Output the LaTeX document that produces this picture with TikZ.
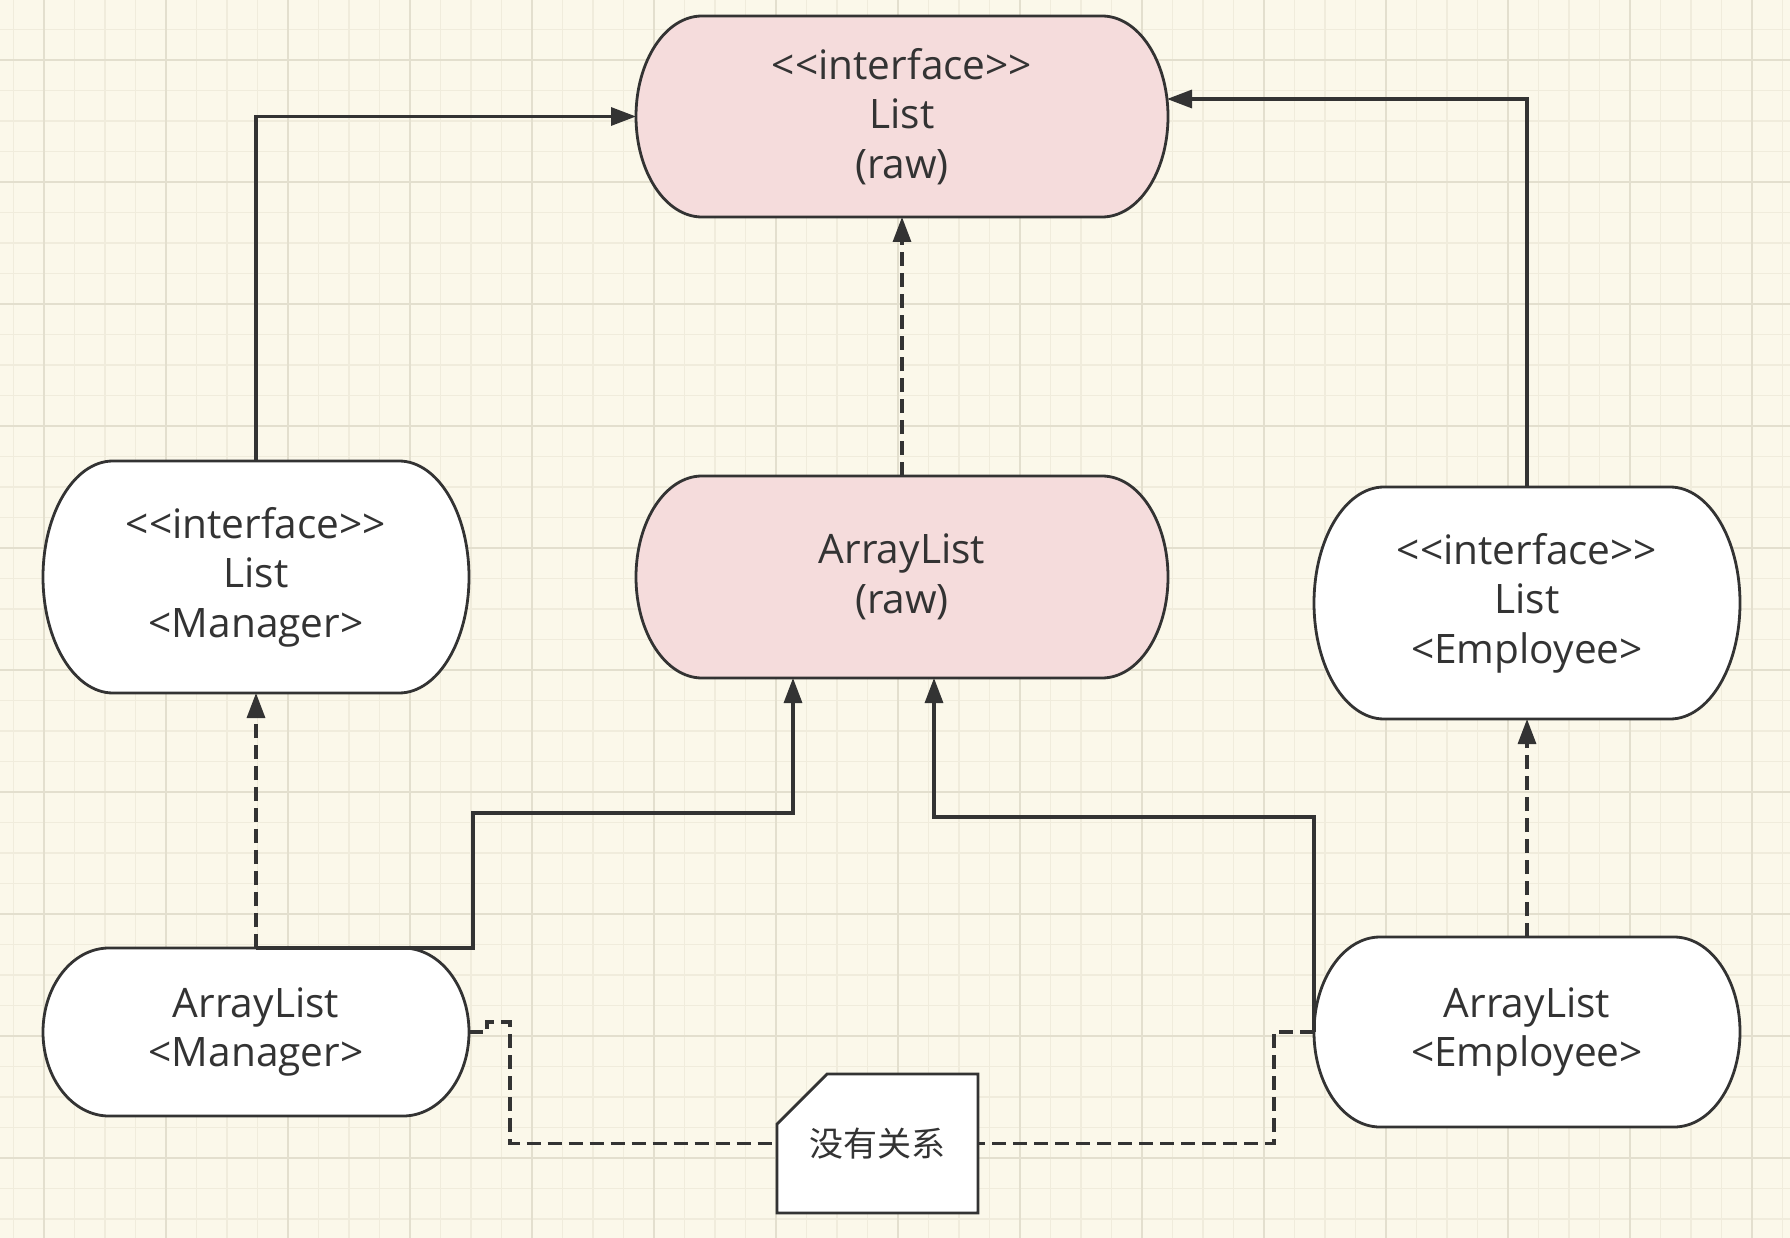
\documentclass[tikz,border=0pt]{standalone}
\usepackage{fontspec}
\setmainfont{Open Sans}
\newfontfamily\cjk{Noto Sans CJK SC}
\usetikzlibrary{arrows.meta,calc}
\definecolor{bgc}{HTML}{FBF8EA}
\definecolor{gridminor}{HTML}{F0ECDC}
\definecolor{gridmajor}{HTML}{E3DFCE}
\definecolor{linec}{HTML}{333333}
\definecolor{pinkc}{HTML}{F5DCDC}
\newcommand\ltlt{<\kern0pt<}
\newcommand\gtgt{>\kern0pt>}
\newcommand\capsule[3]{%
  \path[draw=linec, line width=2.8pt, fill=#3]
    let \p1=(#1.north west), \p2=(#1.south east) in
    (\x1+#2,\y1) -- (\x2-#2,\y1)
    arc[start angle=90, end angle=-90, x radius=#2, y radius={(\y1-\y2)/2}]
    -- (\x1+#2,\y2)
    arc[start angle=270, end angle=90, x radius=#2, y radius={(\y1-\y2)/2}]
    -- cycle;}
\pgfdeclarelayer{gridlayer}
\pgfdeclarelayer{shapelayer}
\pgfsetlayers{gridlayer,shapelayer,main}
\begin{document}
\begin{tikzpicture}[x=1pt,y=-1pt,
  capnode/.style={inner sep=0pt, outer sep=0pt, align=center, text=linec,
    font=\fontsize{40.6}{49.5}\selectfont},
  notenode/.style={inner sep=0pt, outer sep=0pt, align=center, text=linec,
    font=\cjk\fontsize{34}{40}\selectfont},
  conn/.style={draw=linec, line width=3.2pt},
  arrowconn/.style={conn, -{Triangle[length=25pt,width=18pt]}},
  dashconn/.style={conn, dash pattern=on 14pt off 7pt},
  dasharrow/.style={arrowconn, dash pattern=on 14pt off 7pt}]
\useasboundingbox (0,0) rectangle (1790,1238);
\begin{pgfonlayer}{gridlayer}
  \fill[bgc] (0,0) rectangle (1790,1238);
  \foreach \xx in {13.5,44,...,1790} \draw[gridminor, line width=1.6pt] (\xx,0) -- (\xx,1238);
  \foreach \yy in {29.5,60,...,1238} \draw[gridminor, line width=1.6pt] (0,\yy) -- (1790,\yy);
  \foreach \xx in {44,166,...,1790} \draw[gridmajor, line width=2pt] (\xx,0) -- (\xx,1238);
  \foreach \yy in {60,182,...,1238} \draw[gridmajor, line width=2pt] (0,\yy) -- (1790,\yy);
\end{pgfonlayer}

% nodes
\node[capnode, minimum width=532pt, minimum height=201pt] (A) at (902,116.5) {\ltlt interface\gtgt\\List\\(raw)};
\node[capnode, minimum width=532pt, minimum height=202pt] (B) at (902,577) {ArrayList\\(raw)};
\node[capnode, minimum width=426pt, minimum height=232pt] (C) at (256,577) {\ltlt interface\gtgt\\List\\<Manager>};
\node[capnode, minimum width=426pt, minimum height=232pt] (D) at (1527,603) {\ltlt interface\gtgt\\List\\<Employee>};
\node[capnode, minimum width=426pt, minimum height=168pt] (E) at (256,1032) {ArrayList\\<Manager>};
\node[capnode, minimum width=426pt, minimum height=190pt] (F) at (1527,1032) {ArrayList\\<Employee>};
\node[notenode, minimum width=201pt, minimum height=139pt] (G) at (877.5,1143.5) {没有关系};

\begin{pgfonlayer}{shapelayer}
  \capsule{A}{66pt}{pinkc}
  \capsule{B}{66pt}{pinkc}
  \capsule{C}{70pt}{white}
  \capsule{D}{70pt}{white}
  \capsule{E}{66pt}{white}
  \capsule{F}{66pt}{white}
  \path[draw=linec, line width=2.8pt, fill=white]
    ([xshift=50pt]G.north west) -- (G.north east) -- (G.south east)
    -- (G.south west) -- ([yshift=-50pt]G.north west) -- cycle;
\end{pgfonlayer}

% connectors
\coordinate (r1) at (1527,99);
\coordinate (m1) at (473,813);
\coordinate (m2) at (793,813);
\coordinate (n1) at (934,817);
\draw[arrowconn] (C.north) |- (A.west);
\draw[dasharrow] (B.north) -- (A.south);
\draw[arrowconn] (D.north) -- (r1) -- ([xshift=-1pt]r1 -| A.east);
\draw[dasharrow] (E.north) -- (C.south);
\draw[arrowconn] (E.north) -| (m1) -- (m2) -- (m2 |- B.south);
\draw[arrowconn] (F.west) |- (n1) -- (n1 |- B.south);
\draw[dasharrow] (F.north) -- (D.south);
\draw[dashconn] (E.east) -- ++(18,0) -- ++(0,-10) -- ++(23,0) |- (G.west);
\draw[dashconn] (F.west) -- ++(-40,0) |- (G.east);
\end{tikzpicture}
\end{document}
